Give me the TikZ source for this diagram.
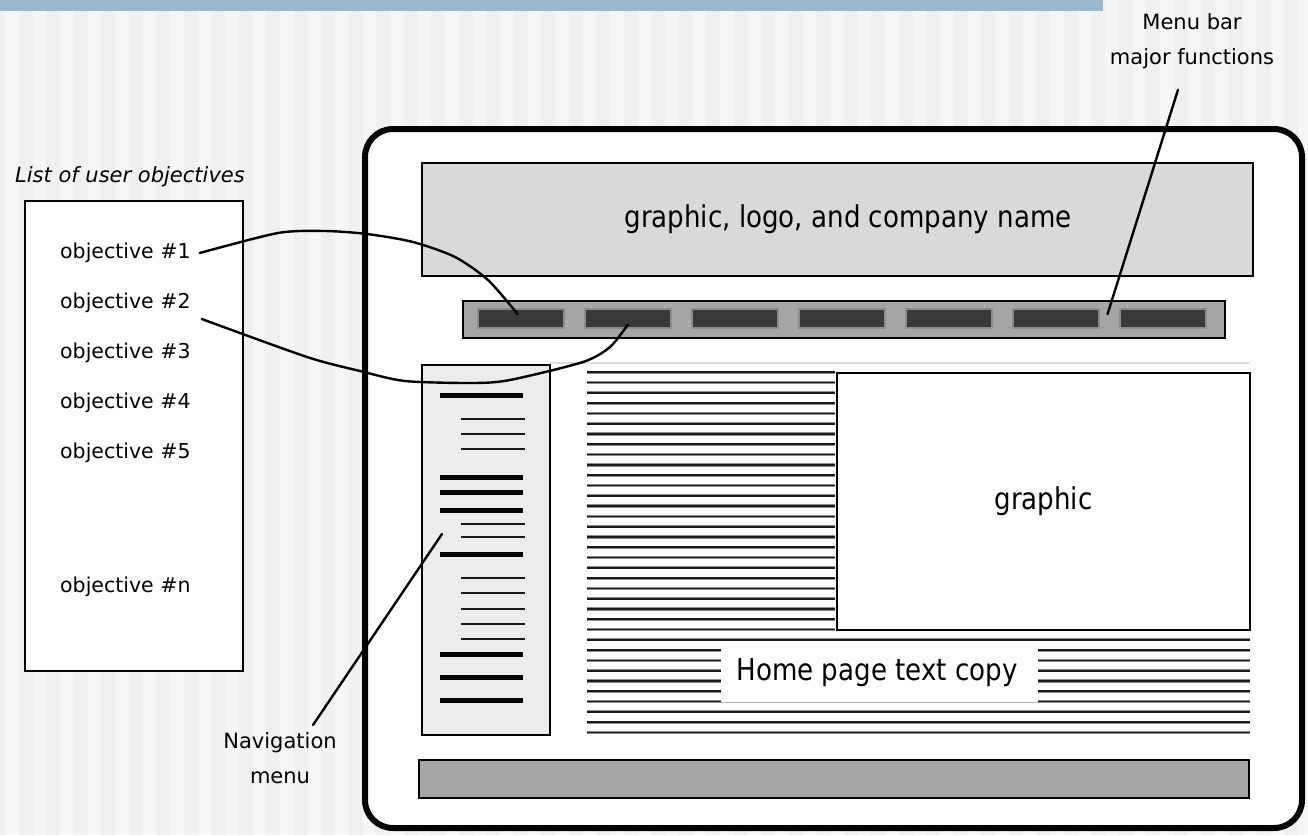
\documentclass[tikz,border=0pt]{standalone}
\usepackage{fontspec}
\setmainfont{DejaVu Sans}
\newfontfamily\narrowsans[FakeStretch=0.87]{DejaVu Sans}
\usetikzlibrary{calc}

\definecolor{bandblue}{HTML}{9BB6CF}
\definecolor{bgdark}{HTML}{F0F0F0}
\definecolor{bglight}{HTML}{F6F6F6}
\definecolor{headgray}{HTML}{D9D9D9}
\definecolor{bargray}{HTML}{A6A6A6}
\definecolor{btndark}{HTML}{393939}
\definecolor{btnedge}{HTML}{8C8C8C}
\definecolor{navgray}{HTML}{ECECEC}
\definecolor{rulegray}{HTML}{DDDDDD}

\tikzset{
  panel/.style={draw=black, line width=2pt, inner sep=0pt, anchor=north west},
  button/.style={fill=btndark, draw=btnedge, line width=1.5pt, inner sep=0pt,
    minimum width=86pt, minimum height=19pt, anchor=north west},
  label/.style={inner sep=0pt, font=\fontsize{20.5}{35}\selectfont},
  bigtext/.style={inner sep=0pt, font=\narrowsans\fontsize{30}{34}\selectfont},
  link/.style={draw=black, line width=2.4pt, line join=round, line cap=round},
  tlhalo/.style={draw=black!45, line width=3.2pt},
  tlcore/.style={draw=black!90, line width=1.7pt},
  navthick/.style={draw=black, line width=5pt},
  navthin/.style={draw=black!90, line width=2pt},
}

% one line of placeholder body text
\newcommand\bodyrule[3]{%
  \draw[tlhalo] (#1,#3) -- (#2,#3);
  \draw[tlcore] (#1,#3) -- (#2,#3);}

\begin{document}
\begin{tikzpicture}[x=1pt, y=-1pt]
\useasboundingbox (0,0) rectangle (1308,835);

% striped backdrop and title band
\fill[bgdark] (0,0) rectangle (1308,835);
\foreach \i in {0,...,47}
  \fill[bglight] ({5+27.5*\i},0) rectangle ++(13.75,835);
\fill[bandblue] (0,0) rectangle (1103,11);

% page frame
\draw[line width=6pt, fill=white, rounded corners=28pt] (365,129) rectangle (1302,828);

% list of objectives
\node[label, anchor=west, font=\fontsize{21}{25}\selectfont\itshape] (listtitle) at (15,177) {List of user objectives};
\node[panel, fill=white, minimum width=218pt, minimum height=470pt] (objbox) at (24,200) {};
\node[label, anchor=west] (obj1) at (60,253) {objective \#1};
\node[label, anchor=west] (obj2) at (60,303) {objective \#2};
\node[label, anchor=west] (obj3) at (60,353) {objective \#3};
\node[label, anchor=west] (obj4) at (60,403) {objective \#4};
\node[label, anchor=west] (obj5) at (60,453) {objective \#5};
\node[label, anchor=west] (objn) at (60,587) {objective \#n};

% header
\node[panel, fill=headgray, minimum width=831pt, minimum height=113pt] (header) at (421,162) {};
\node[bigtext] (headtxt) at (848,219) {graphic, logo, and company name};

% menu bar with buttons
\node[panel, fill=bargray, minimum width=762pt, minimum height=37pt] (menubar) at (462,300) {};
\foreach \j in {1,...,7}
  \node[button] (btn\j) at ({477+107*(\j-1)},308) {};

% thin rule under the menu bar
\draw[rulegray, line width=1.5pt] (550,363) -- (1250,363);

% navigation column
\node[panel, fill=navgray, minimum width=128pt, minimum height=370pt] (navbox) at (421,364) {};
\foreach \y in {395,477,492,510,554,654,677,700}
  \draw[navthick] (440,\y) -- (523,\y);
\foreach \y in {419,434,449,524,537,578,593,609,624,639}
  \draw[navthin] (461,\y) -- (525,\y);

% body text placeholder
\foreach \k in {0,...,25}{
  \bodyrule{587}{835}{372.3+10.29*\k}}
\foreach \k in {26,33,34,35}{
  \bodyrule{587}{1250}{372.3+10.29*\k}}
\foreach \k in {27,...,32}{
  \bodyrule{587}{721}{372.3+10.29*\k}
  \bodyrule{1038}{1250}{372.3+10.29*\k}}

% picture area
\node[panel, fill=white, minimum width=413pt, minimum height=257pt] (graphic) at (836,372) {};
\node[bigtext] (graphictxt) at (graphic.center) {graphic};

% caption strip inside the body text
\draw[black!28, line width=1pt] (721,702) -- (1038,702);
\node[bigtext] (hometxt) at (877,673) {Home page text copy};

% footer bar
\node[panel, fill=bargray, line width=1.6pt, minimum width=830pt, minimum height=38pt] (footer) at (418,759) {};

% callout labels
\node[label, anchor=north, align=center, font=\fontsize{21}{35}\selectfont] (menulbl) at (1192,13) {Menu bar\\major functions};
\node[label, anchor=north, align=center, font=\fontsize{21}{35}\selectfont] (navlbl) at (280,732) {Navigation\\menu};

\coordinate (menutip) at ($(menulbl.south)+(-14,21)$);
\coordinate (menuend) at ($(btn6.east)+(8,-4)$);
\coordinate (navtip) at ($(navlbl.north)+(33,-7)$);
\coordinate (navend) at (442,534);

% callout lines
\draw[link] (menutip) -- (menuend);
\draw[link] (navtip) -- (navend);

% objective to menu links
\draw[link] plot[smooth, tension=0.45] coordinates {
  ($(obj1.east)+(9,0)$) (278,233) (325,231) (367,234) (413,242)
  (455,257) (488,280) ($(btn1.center)+(-3,-4)$)};
\draw[link] plot[smooth, tension=0.45] coordinates {
  ($(obj2.east)+(11,16)$) (307,357) (360,371) (405,381)
  (473,383) (510,380) (583,362) (610,347) ($(btn2.center)+(0,6.5)$)};

\end{tikzpicture}
\end{document}
